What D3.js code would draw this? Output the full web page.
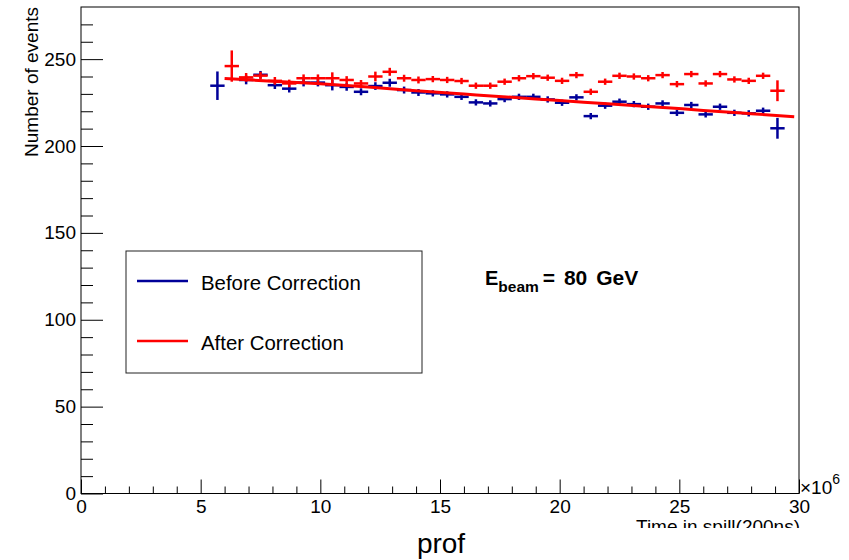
<!DOCTYPE html>
<html>
<head>
<meta charset="utf-8">
<script src="https://cdn.jsdelivr.net/npm/d3@7"></script>
<style>
  html, body { margin: 0; padding: 0; background: #fff; }
  svg { display: block; font-family: "Liberation Sans", Arial, Helvetica, sans-serif; }
</style>
</head>
<body>
<svg id="chart" width="849" height="560"></svg>
<script>
// ---- data ----
const binCenters = [5.7, 6.3, 6.9, 7.5, 8.1, 8.7, 9.3, 9.9, 10.5, 11.1, 11.7, 12.3, 12.9, 13.5, 14.1, 14.7,
  15.3, 15.9, 16.5, 17.1, 17.7, 18.3, 18.9, 19.5, 20.1, 20.7, 21.3, 21.9, 22.5, 23.1, 23.7, 24.3,
  24.9, 25.5, 26.1, 26.7, 27.3, 27.9, 28.5, 29.1];
const binHalfWidth = 0.3;
const beforeValues = [234.7, null, 238, 241, 235, 233, 236.5, 236.5, 235, 234, 231.2, 234.5, 236.4, 232.2, 230.8, 230.3,
  229.7, 228.3, 225.1, 224.5, 227, 228.3, 228.3, 226.8, 224.9, 228, 217.2, 223.2, 225.5, 224.1, 222.6, 224.5,
  219.1, 223.6, 218.2, 222.6, 219.1, 218.8, 220.3, 210.2];
const beforeErrors = [8.2, null, 2.5, 2.2, 2.2, 2.2, 2.2, 2.2, 3.0, 2.2, 2.0, 2.2, 2.3, 2.0, 2.0, 1.8,
  1.8, 1.8, 1.8, 1.8, 1.8, 1.8, 1.8, 1.8, 1.8, 1.8, 1.8, 1.8, 1.8, 1.8, 1.8, 1.8,
  1.8, 1.8, 1.8, 1.8, 1.8, 1.8, 1.8, 6.0];
const afterValues = [null, 246, 239.5, 240.5, 237.5, 236, 239, 239, 239, 238, 236, 240, 242.7, 239, 238, 238.5,
  238, 237.4, 234.7, 234.7, 237, 239, 240.2, 239.3, 237.5, 240.8, 231.2, 237, 240.4, 240, 239, 240.8,
  235.6, 241.4, 236, 241.4, 238.3, 237.5, 240.4, 231.8];
const afterErrors = [null, 9.0, 2.5, 2.2, 2.2, 2.2, 2.2, 2.2, 3.4, 2.2, 2.0, 2.8, 2.3, 2.0, 2.0, 1.8,
  1.8, 1.8, 1.8, 1.8, 1.8, 1.8, 1.8, 1.8, 1.8, 1.8, 1.8, 1.8, 1.8, 1.8, 1.8, 1.8,
  1.8, 1.8, 1.8, 1.8, 1.8, 1.8, 1.8, 6.0];
// fitted curve
const fitX = [6.0, 8, 10, 12, 14, 16, 18, 20, 22, 24, 26, 28, 29.8];
const fitY = [238.8, 237.3, 235.8, 234.0, 231.8, 229.9, 228.0, 226.2, 224.3, 222.5, 220.5, 218.6, 216.9];
const yMajorTicks = [0, 50, 100, 150, 200, 250];
const yMinorTicks = [10, 20, 30, 40, 60, 70, 80, 90, 110, 120, 130, 140, 160, 170, 180, 190, 210, 220, 230, 240, 260, 270];
const xMajorTicks = [0, 5, 10, 15, 20, 25, 30];
const xMinorTicks = [1, 2, 3, 4, 6, 7, 8, 9, 11, 12, 13, 14, 16, 17, 18, 19, 21, 22, 23, 24, 26, 27, 28, 29];
const legendLabels = ["Before Correction", "After Correction"];
const xTitle = "Time in spill(200ns)";
const yTitle = "Number of events";
const plotTitle = "prof";

// ---- layout ----
const colBefore = "#000099";
const colAfter = "#ff0000";
const L = 81, R = 799, T = 7, B = 493.5;
const svg = d3.select("#chart");
const x = d3.scaleLinear().domain([0, 30]).range([L, R]);
const y = d3.scaleLinear().domain([0, 280]).range([B, T]);

// frame
svg.append("rect").attr("x", L).attr("y", T).attr("width", R - L).attr("height", B - T)
  .attr("fill", "none").attr("stroke", "#000").attr("stroke-width", 1);

// y axis
const yMajor = d3.axisLeft(y).tickValues(yMajorTicks).tickSizeInner(-22).tickSizeOuter(0).tickPadding(5)
  .tickFormat(d3.format("d"));
const yMinor = d3.axisLeft(y).tickValues(yMinorTicks).tickSizeInner(-12).tickSizeOuter(0).tickFormat("");
[yMajor, yMinor].forEach(a => {
  const g = svg.append("g").attr("transform", `translate(${L},0)`).call(a);
  g.select(".domain").remove();
  g.selectAll("line").attr("stroke", "#000").attr("stroke-width", 1);
  g.selectAll("text").attr("font-size", 19).attr("fill", "#000")
    .attr("font-family", "'Liberation Sans', Arial, sans-serif");
});
// x axis
const xMajor = d3.axisBottom(x).tickValues(xMajorTicks).tickSizeInner(-14).tickSizeOuter(0).tickPadding(6)
  .tickFormat(d3.format("d"));
const xMinor = d3.axisBottom(x).tickValues(xMinorTicks).tickSizeInner(-7).tickSizeOuter(0).tickFormat("");
[xMajor, xMinor].forEach(a => {
  const g = svg.append("g").attr("transform", `translate(0,${B})`).call(a);
  g.select(".domain").remove();
  g.selectAll("line").attr("stroke", "#000").attr("stroke-width", 1);
  g.selectAll("text").attr("font-size", 19).attr("fill", "#000")
    .attr("font-family", "'Liberation Sans', Arial, sans-serif");
});
svg.append("line").attr("x1", L).attr("x2", R).attr("y1", B).attr("y2", B).attr("stroke", "#000");

// x10^6
const exp = svg.append("text").attr("x", 800).attr("y", 494).attr("font-size", 19);
exp.append("tspan").text("\u00d710");
exp.append("tspan").attr("dy", -10).attr("font-size", 14).text("6");

// axis titles
svg.append("text").attr("transform", `translate(38,${T}) rotate(-90)`)
  .attr("text-anchor", "end").attr("font-size", 19).text(yTitle);
svg.append("defs").append("clipPath").attr("id", "xtclip")
  .append("rect").attr("x", 0).attr("y", 0).attr("width", 849).attr("height", 528);
svg.append("text").attr("x", 800).attr("y", 533).attr("text-anchor", "end")
  .attr("font-size", 19).attr("clip-path", "url(#xtclip)").text(xTitle);
svg.append("text").attr("x", 441).attr("y", 553).attr("text-anchor", "middle")
  .attr("font-size", 28).text(plotTitle);

// error crosses
function drawSeries(vals, errs, color) {
  const pts = binCenters.map((c, i) => ({ c, v: vals[i], e: errs[i] })).filter(d => d.v != null);
  const g = svg.append("g").attr("stroke", color).attr("stroke-width", 2.5).attr("fill", "none");
  g.selectAll("line.h").data(pts).join("line").attr("class", "h")
    .attr("x1", d => x(d.c - binHalfWidth)).attr("x2", d => x(d.c + binHalfWidth))
    .attr("y1", d => y(d.v)).attr("y2", d => y(d.v));
  g.selectAll("line.v").data(pts).join("line").attr("class", "v")
    .attr("x1", d => x(d.c)).attr("x2", d => x(d.c))
    .attr("y1", d => y(d.v - d.e)).attr("y2", d => y(d.v + d.e));
}
drawSeries(beforeValues, beforeErrors, colBefore);
drawSeries(afterValues, afterErrors, colAfter);

// fit line
const fitPts = fitX.map((v, i) => [v, fitY[i]]);
svg.append("path").datum(fitPts)
  .attr("d", d3.line().x(d => x(d[0])).y(d => y(d[1])).curve(d3.curveMonotoneX))
  .attr("fill", "none").attr("stroke", colAfter).attr("stroke-width", 3);

// legend
svg.append("rect").attr("x", 126).attr("y", 251).attr("width", 296).attr("height", 122)
  .attr("fill", "#fff").attr("stroke", "#222").attr("stroke-width", 1);
[[colBefore, 281], [colAfter, 341]].forEach(([c, yy], i) => {
  svg.append("line").attr("x1", 137).attr("x2", 188).attr("y1", yy).attr("y2", yy)
    .attr("stroke", c).attr("stroke-width", 2.5);
  svg.append("text").attr("x", 201).attr("y", yy + 9).attr("font-size", 20.4).text(legendLabels[i]);
});

// E_beam annotation
const eb = svg.append("text").attr("x", 485).attr("y", 285).attr("font-size", 20).attr("font-weight", "bold");
eb.append("tspan").text("E");
eb.append("tspan").attr("dy", 7).attr("font-size", 15.5).text("beam");
eb.append("tspan").attr("dy", -7).attr("dx", 4).attr("font-size", 21).attr("word-spacing", "3px").text("= 80 GeV");
</script>
</body>
</html>
